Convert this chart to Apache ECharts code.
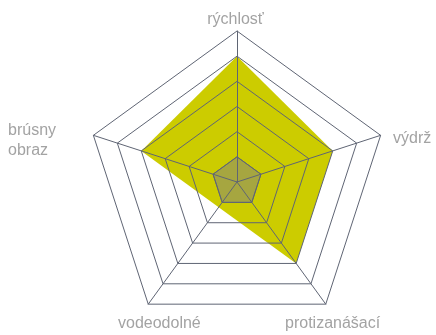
<!DOCTYPE html>
<html>
<head>
<meta charset="utf-8">
<script src="https://cdn.jsdelivr.net/npm/echarts@6/dist/echarts.min.js"></script>
<style>
  html, body { margin: 0; padding: 0; background: #fff; }
  #echart { width: 436px; height: 335px; }
</style>
</head>
<body>
<div id="echart"></div>
<script>
// indikátory v poradí ECharts (proti smeru hodinových ručičiek od vrchu)
var indicators = ['rýchlosť', 'brúsny obraz', 'vodeodolné', 'protizanášací', 'výdrž'];
var maxValue = 6;
var productValues = [5, 4, 1.24, 4, 4];
var baseValues = [1, 1, 1, 1, 1];

var lineColor = '#5f6574';
var textColor = '#a3a3a3';
var font = '"Liberation Sans", Arial, sans-serif';

var myChart = echarts.init(document.getElementById('echart'));

var option = {
    backgroundColor: '#fff',
    radar: {
        z: 5,
        center: [237, 182],
        radius: 151,
        shape: 'polygon',
        splitNumber: 6,
        indicator: indicators.map(function (n) { return { name: n, max: maxValue }; }),
        axisName: { show: false },
        axisLine: { lineStyle: { color: lineColor, width: 1 } },
        splitLine: { lineStyle: { color: lineColor, width: 1 } },
        splitArea: { show: false }
    },
    series: [{
        type: 'radar',
        symbol: 'none',
        silent: true,
        data: [
            {
                value: productValues,
                lineStyle: { width: 0, opacity: 0 },
                areaStyle: { color: '#cccc00', opacity: 1 }
            },
            {
                value: baseValues,
                lineStyle: { width: 1, color: lineColor },
                areaStyle: { color: 'rgba(128,128,128,0.5)', opacity: 1 }
            }
        ]
    }],
    // popisy osí
    graphic: [
        { type: 'text', x: 235.5, y: 19.5, style: { text: 'rýchlosť', fill: textColor, font: '16px ' + font, align: 'center', verticalAlign: 'middle' } },
        { type: 'text', x: 393, y: 138.5, style: { text: 'výdrž', fill: textColor, font: '16px ' + font, align: 'left', verticalAlign: 'middle' } },
        { type: 'text', x: 8, y: 140.5, style: { text: 'brúsny\nobraz', fill: textColor, font: '16px ' + font, lineHeight: 20, align: 'left', verticalAlign: 'middle' } },
        { type: 'text', x: 118, y: 323.5, style: { text: 'vodeodolné', fill: textColor, font: '16px ' + font, align: 'left', verticalAlign: 'middle' } },
        { type: 'text', x: 285, y: 323.5, style: { text: 'protizanášací', fill: textColor, font: '16px ' + font, align: 'left', verticalAlign: 'middle' } }
    ]
};
myChart.setOption(option);
</script>
</body>
</html>
